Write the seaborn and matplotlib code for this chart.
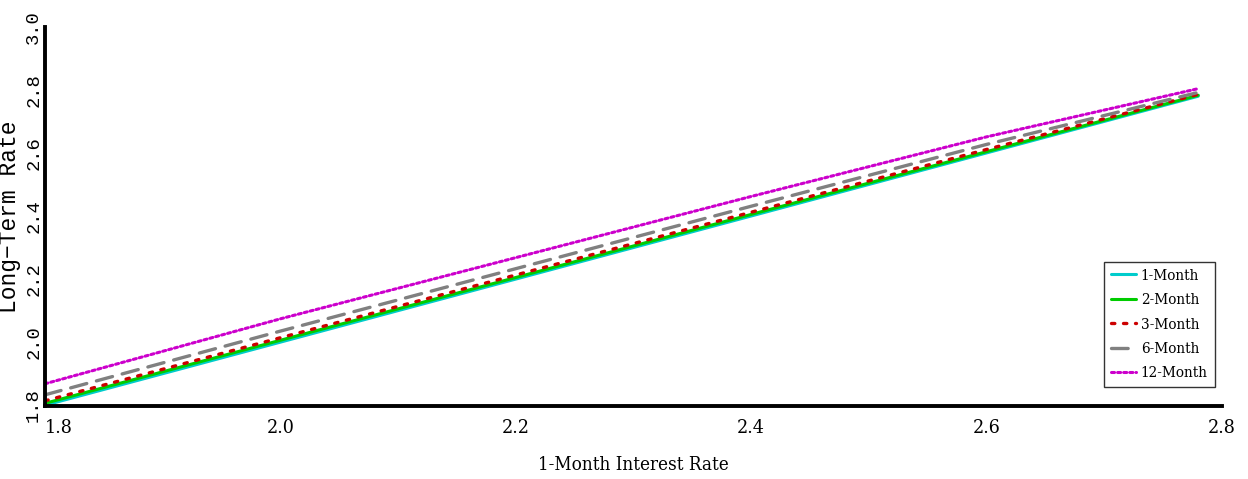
import numpy as np
import pandas as pd
import matplotlib
matplotlib.use('Agg')
import matplotlib.pyplot as plt
import seaborn as sns
from matplotlib.ticker import MultipleLocator

# 1-Month rate grid and long-term rates
short_rate = [1.80, 2.00, 2.20, 2.40, 2.60, 2.78]
rate_1m = [1.800, 2.000, 2.200, 2.400, 2.600, 2.780]
rate_2m = [1.806, 2.006, 2.205, 2.405, 2.604, 2.783]
rate_3m = [1.814, 2.014, 2.213, 2.412, 2.611, 2.786]
rate_6m = [1.833, 2.035, 2.233, 2.431, 2.627, 2.792]
rate_12m = [1.868, 2.074, 2.268, 2.462, 2.651, 2.804]

labels = ['1-Month', '2-Month', '3-Month', '6-Month', '12-Month']
colors = ['#00CCCC', '#00CC00', '#CC0000', '#808080', '#CC00CC']
styles = ['-', '-', (0, (1, 2.6)), (0, (5, 3)), (0, (1, 1))]
widths = [2.2, 2.2, 2.4, 2.4, 2.2]

series = [rate_1m, rate_2m, rate_3m, rate_6m, rate_12m]
df = pd.concat([pd.DataFrame({'x': short_rate, 'y': s, 'maturity': lab})
                for s, lab in zip(series, labels)], ignore_index=True)

sns.set_style('white')
serif = dict(family='DejaVu Serif', fontstretch='condensed')
mono = ['Liberation Mono', 'DejaVu Sans Mono']

fig = plt.figure(figsize=(12.48, 4.79), dpi=100)
ax = fig.add_axes([0.036, 0.152, 0.943, 0.792])

for lab, c, ls, lw in zip(labels, colors, styles, widths):
    d = df[df['maturity'] == lab]
    sns.lineplot(data=d, x='x', y='y', ax=ax, color=c, linestyle=ls,
                 linewidth=lw, label=lab, dash_capstyle='round')

ax.xaxis.set_major_locator(MultipleLocator(0.2))
ax.xaxis.set_minor_locator(MultipleLocator(0.1))
ax.yaxis.set_major_locator(MultipleLocator(0.2))
ax.yaxis.set_minor_locator(MultipleLocator(0.1))
ax.tick_params(which='both', direction='in', color='black', width=1,
               labelcolor='black')
ax.tick_params(which='major', length=6)
ax.tick_params(which='minor', length=4)
ax.tick_params(axis='x', pad=9)
ax.tick_params(axis='y', pad=2)

for sp in ['top', 'right']:
    ax.spines[sp].set_visible(False)
for sp in ['left', 'bottom']:
    ax.spines[sp].set_linewidth(2.8)
    ax.spines[sp].set_color('black')

xt = [1.8, 2.0, 2.2, 2.4, 2.6, 2.8]
yt = [1.8, 2.0, 2.2, 2.4, 2.6, 2.8, 3.0]
ax.set_xticks(xt)
ax.set_xticklabels([f'{v:.1f}' for v in xt], fontsize=14, color='black', **serif)
ax.get_xticklabels()[0].set_horizontalalignment('left')
ax.set_yticks(yt)
ax.set_yticklabels([f'{v:.1f}' for v in yt], family=mono, color='black',
                   fontsize=13.5, rotation=90, va='center')
ax.set_ylim(1.797, 3.0)
ax.set_xlim(1.8, 2.8)

ax.set_xlabel('1-Month Interest Rate', fontsize=13.5, labelpad=14,
              color='black', **serif)
ax.set_ylabel('Long\u2212Term Rate', family=mono, fontsize=16.5, labelpad=3,
              color='black')

leg = ax.legend(loc='lower right', bbox_to_anchor=(0.994, 0.05), frameon=True,
                fancybox=False, edgecolor='black', handlelength=1.6,
                prop={'family': 'DejaVu Serif', 'stretch': 'condensed', 'size': 11},
                borderpad=0.45, labelspacing=0.68, handletextpad=0.35,
                borderaxespad=0)
leg.get_frame().set_linewidth(1.0)
for t in leg.get_texts():
    t.set_color('black')

fig.savefig('out.png', dpi=100, facecolor='white')
